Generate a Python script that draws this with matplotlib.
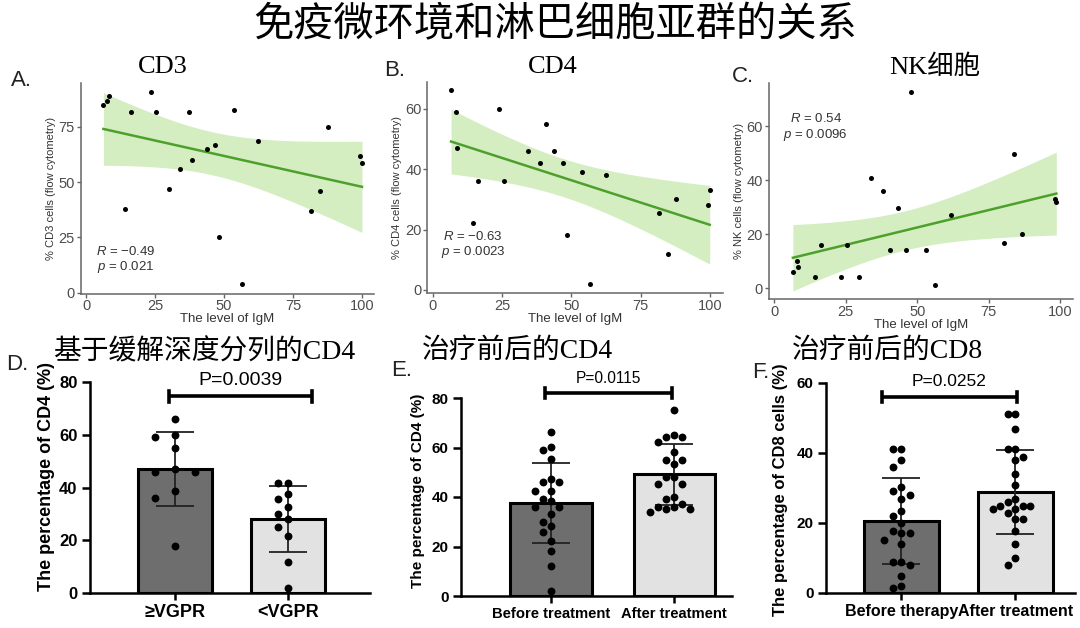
import numpy as np
import matplotlib
matplotlib.use('Agg')
from matplotlib import pyplot as plt

# ---- values ----
cd3_igm = [6.3, 7.7, 8.2, 14.1, 16.2, 23.6, 25.5, 29.9, 34.1, 37.4, 38.5,
           43.7, 46.6, 48.1, 53.8, 56.7, 62.3, 81.5, 84.9, 87.7, 99.2, 100]
cd3_pct = [84.8, 86.7, 88.9, 37.8, 81.8, 90.7, 81.8, 46.8, 55.7, 81.8, 59.8,
           64.8, 66.7, 25.0, 82.7, 3.9, 68.8, 37.0, 45.8, 74.7, 61.7, 58.7]

cd4_igm = [6.6, 8.3, 8.7, 14.4, 16.3, 23.8, 25.7, 34.3, 38.7, 40.9, 43.8,
           46.8, 48.3, 53.8, 56.7, 62.6, 81.5, 84.9, 87.6, 99.2, 99.9]
cd4_pct = [66.1, 59.0, 47.0, 22.1, 36.0, 60.0, 36.0, 46.1, 42.0, 55.0, 46.1,
           42.0, 18.1, 39.0, 2.0, 38.0, 25.5, 12.0, 30.1, 28.1, 33.0]

nk_igm = [6.5, 8.1, 8.4, 14.1, 16.2, 23.5, 25.4, 29.8, 33.7, 38.2, 40.5,
          43.3, 46.1, 47.7, 53.2, 56.1, 61.7, 80.5, 83.8, 86.6, 98.1, 98.7]
nk_pct = [6.1, 10.0, 8.0, 4.1, 16.1, 4.1, 16.1, 4.1, 41.0, 36.0, 14.0,
          29.9, 14.0, 72.9, 14.0, 1.1, 27.0, 16.7, 49.9, 20.0, 33.0, 31.9]

stats_labels = [("\u2212" + "0.49", "0.021"), ("\u2212" + "0.63", "0.0023"), ("0.54", "0.0096")]

vgpr_hi = [65.9, 59.9, 59.0, 54.9, 46.9, 46.0, 46.0, 38.8, 35.9, 17.9]
vgpr_lo = [41.8, 41.8, 37.5, 35.8, 32.7, 29.8, 27.9, 25.1, 21.7, 11.6, 1.8]
cd4_before = [66.1, 60.1, 59.0, 55.2, 47.1, 46.2, 46.2, 42.4, 42.4, 39.2, 38.4,
              36.1, 36.1, 33.1, 30.0, 28.3, 25.7, 22.2, 18.2, 12.3, 2.2]
cd4_after = [75.2, 65.1, 64.1, 64.1, 62.1, 58.1, 55.0, 55.0, 53.2, 48.2, 48.2,
             45.1, 45.1, 40.1, 39.1, 37.0, 36.1, 36.1, 35.2, 35.2, 34.1]
cd8_before = [41.1, 41.1, 38.0, 35.9, 30.2, 29.2, 28.0, 26.9, 23.3, 22.0, 20.1,
              17.8, 17.1, 17.1, 15.1, 14.0, 8.9, 8.9, 8.0, 4.9, 2.0, 1.3]
cd8_after = [51.1, 51.1, 47.0, 41.1, 41.1, 38.9, 38.0, 34.0, 31.0, 26.9, 26.1,
             24.9, 24.9, 24.9, 24.1, 24.1, 22.9, 21.1, 21.1, 17.8, 13.9, 9.9, 8.0]

p_values = ["P=0.0039", "P=0.0115", "P=0.0252"]

W, H = 1080, 628
T_CRIT = 2.09
LINE = '#4ea02c'
BAND = '#d4eec2'
DARK = '#6e6e6e'
LIGHT = '#e2e2e2'

plt.rcParams['font.family'] = ['Liberation Sans', 'Noto Sans CJK SC']
plt.rcParams['mathtext.fontset'] = 'custom'
plt.rcParams['mathtext.it'] = 'Liberation Sans:italic'
plt.rcParams['mathtext.rm'] = 'Liberation Sans'

fig = plt.figure(figsize=(W / 100, H / 100), dpi=100)


def px_axes(l, t, r, b):
    return fig.add_axes([l / W, 1 - b / H, (r - l) / W, (b - t) / H])


def ftext(x, y, s, **kw):
    fig.text(x / W, 1 - y / H, s, **kw)


def scatter_panel(rect, x, y, ylim, yticks, ylabel, stats, txt_y):
    ax = px_axes(*rect)
    x = np.asarray(x)
    y = np.asarray(y)
    slope, icpt = np.polyfit(x, y, 1)
    xs = np.linspace(x.min(), x.max(), 100)
    fit = icpt + slope * xs
    n = len(x)
    s = np.sqrt(np.sum((y - icpt - slope * x) ** 2) / (n - 2))
    se = s * np.sqrt(1 / n + (xs - x.mean()) ** 2 / np.sum((x - x.mean()) ** 2))
    ax.fill_between(xs, fit - T_CRIT * se, fit + T_CRIT * se, color=BAND, lw=0, zorder=1)
    ax.plot(xs, fit, color=LINE, lw=1.8, zorder=2)
    ax.scatter(x, y, s=13, color='black', linewidths=0, zorder=3)
    ax.set_xlim(-2, 104.5)
    ax.set_ylim(*ylim)
    ax.set_xticks([0, 25, 50, 75, 100])
    ax.set_yticks(yticks)
    for sp in ['top', 'right']:
        ax.spines[sp].set_visible(False)
    for sp in ['left', 'bottom']:
        ax.spines[sp].set_color('#666666')
        ax.spines[sp].set_linewidth(1.1)
    ax.tick_params(colors='#666666', labelcolor='#4d4d4d', labelsize=10.5, length=3, width=1, pad=1)
    ax.set_xlabel('The level of IgM', fontsize=9.5, color='#333333', labelpad=0)
    ax.set_ylabel(ylabel, fontsize=8, color='#333333', labelpad=2)
    ax.text(14.5, txt_y[0], '$R$ = ' + stats[0], fontsize=9.5, color='#333333', ha='center', va='center')
    ax.text(14.5, txt_y[1], '$p$ = ' + stats[1], fontsize=9.5, color='#333333', ha='center', va='center')
    return ax


def swarm(vals, y_px, step_px, x_px, sep_px):
    # simple beeswarm: each dot goes to the closest free column
    placed = []
    offs = []
    order = [0]
    for i in range(1, 12):
        order += [-i, i]
    for v in vals:
        for k in order:
            if all(abs(v - pv) * y_px >= sep_px for pk, pv in placed if pk == k):
                break
        placed.append((k, v))
        offs.append(k * step_px / x_px)
    return np.array(offs)


def bar_panel(rect, groups, labels, xlim, ylim, yticks, ylabel, sizes, steps, sep,
              bracket, ptxt, ylab_pos):
    ax = px_axes(*rect)
    tick_fs, xl_fs, yl_fs, p_fs = sizes
    x_px = (rect[2] - rect[0]) / (xlim[1] - xlim[0])
    y_px = (rect[3] - rect[1]) / (ylim[1] - ylim[0])
    for i, (vals, col) in enumerate(zip(groups, [DARK, LIGHT])):
        vals = np.asarray(vals)
        m, sd = vals.mean(), vals.std(ddof=1)
        ax.bar(i, m, width=0.66, color=col, edgecolor='black', linewidth=2.2, zorder=1)
        ax.errorbar(i, m, yerr=sd, color='#222222', elinewidth=1.3, capsize=14, capthick=1.3, zorder=2)
        ax.scatter(i + swarm(vals, y_px, steps[i], x_px, sep), vals, s=32, color='black',
                   linewidths=0, zorder=3, clip_on=False)
    ax.set_xlim(*xlim)
    ax.set_ylim(*ylim)
    ax.set_yticks(yticks)
    ax.set_xticks([0, 1])
    ax.set_xticklabels(labels, fontsize=xl_fs, fontweight='bold')
    for lab in ax.get_yticklabels():
        lab.set_fontweight('bold')
        lab.set_fontsize(tick_fs)
    for sp in ['top', 'right']:
        ax.spines[sp].set_visible(False)
    for sp in ['left', 'bottom']:
        ax.spines[sp].set_linewidth(1.8)
    ax.tick_params(axis='y', length=6, width=1.8, pad=3)
    ax.tick_params(axis='x', length=5, width=1.8, pad=3)
    ax.set_ylabel(ylabel, fontsize=yl_fs, fontweight='bold')
    ax.yaxis.set_label_coords(*ylab_pos)
    x0, x1, yb = bracket
    cap = (ylim[1] - ylim[0]) * 0.025
    ax.plot([x0, x1], [yb, yb], color='black', lw=2.6, clip_on=False, solid_capstyle='butt')
    ax.plot([x0, x0], [yb - cap, yb + cap], color='black', lw=2.6, clip_on=False)
    ax.plot([x1, x1], [yb - cap, yb + cap], color='black', lw=2.6, clip_on=False)
    ax.text((x0 + x1) / 2, yb + (ylim[1] - ylim[0]) * 0.075, ptxt, fontsize=p_fs,
            ha='center', va='center', clip_on=False)
    return ax


# top row: correlation with IgM
scatter_panel((80.5, 83, 374.4, 293.8), cd3_igm, cd3_pct, (-0.5, 94.8), [0, 25, 50, 75],
              '% CD3 cells (flow cytometry)', stats_labels[0], (18.5, 11.4))
scatter_panel((427.2, 81.7, 722.5, 293.3), cd4_igm, cd4_pct, (-1.1, 69), [0, 20, 40, 60],
              '% CD4 cells (flow cytometry)', stats_labels[1], (17.7, 12.5))
scatter_panel((768.6, 83.3, 1072.9, 299.3), nk_igm, nk_pct, (-4.1, 76), [0, 20, 40, 60],
              '% NK cells (flow cytometry)', stats_labels[2], (62.9, 56.9))

# bottom row: bar + dot plots
bar_panel((90, 382, 370, 593), [vgpr_hi, vgpr_lo], ['\u2265VGPR', '<VGPR'],
          (-0.752, 1.726), (0, 80), [0, 20, 40, 60, 80], 'The percentage of CD4 (%)',
          (12, 13, 13, 14), (20, 10), 8.0, (-0.05, 1.21, 74.6), p_values[0], (-0.125, 0.55))
bar_panel((461, 398, 732, 596), [cd4_before, cd4_after], ['Before treatment', 'After treatment'],
          (-0.732, 1.47), (0, 80), [0, 20, 40, 60, 80], 'The percentage of CD4 (%)',
          (11, 10.6, 11, 11.2), (8, 8), 9.5, (-0.05, 0.98, 82), p_values[1], (-0.133, 0.53))
bar_panel((826, 383, 1075, 593), [cd8_before, cd8_after], ['Before therapy', 'After treatment'],
          (-0.662, 1.522), (0, 60), [0, 20, 40, 60], 'The percentage of CD8 cells (%)',
          (11, 11.5, 12, 12.5), (8.5, 7.5), 9.5, (-0.17, 1.01, 56), p_values[2], (-0.153, 0.49))

# titles and panel letters
ftext(555, 25, '免疫微环境和淋巴细胞亚群的关系', fontsize=29, ha='center', va='center',
      family=['Noto Sans CJK SC'])
serif = ['Liberation Serif', 'Noto Sans CJK SC']
ftext(163, 67, 'CD3', fontsize=19, ha='center', va='center', family=serif)
ftext(553, 67, 'CD4', fontsize=19, ha='center', va='center', family=serif)
ftext(935, 67, 'NK细胞', fontsize=19, ha='center', va='center', family=serif)
ftext(53, 352, '基于缓解深度分列的CD4', fontsize=20, ha='left', va='center', family=serif)
ftext(422, 351, '治疗前后的CD4', fontsize=20, ha='left', va='center', family=serif)
ftext(792, 351, '治疗前后的CD8', fontsize=20, ha='left', va='center', family=serif)
for lab, x, y in [('A.', 11, 80), ('B.', 384, 70), ('C.', 732, 77),
                  ('D.', 6, 365), ('E.', 391, 370), ('F.', 752, 372)]:
    ftext(x, y, lab, fontsize=16, ha='left', va='center', color='#222222')

fig.savefig('out.png', dpi=100)
